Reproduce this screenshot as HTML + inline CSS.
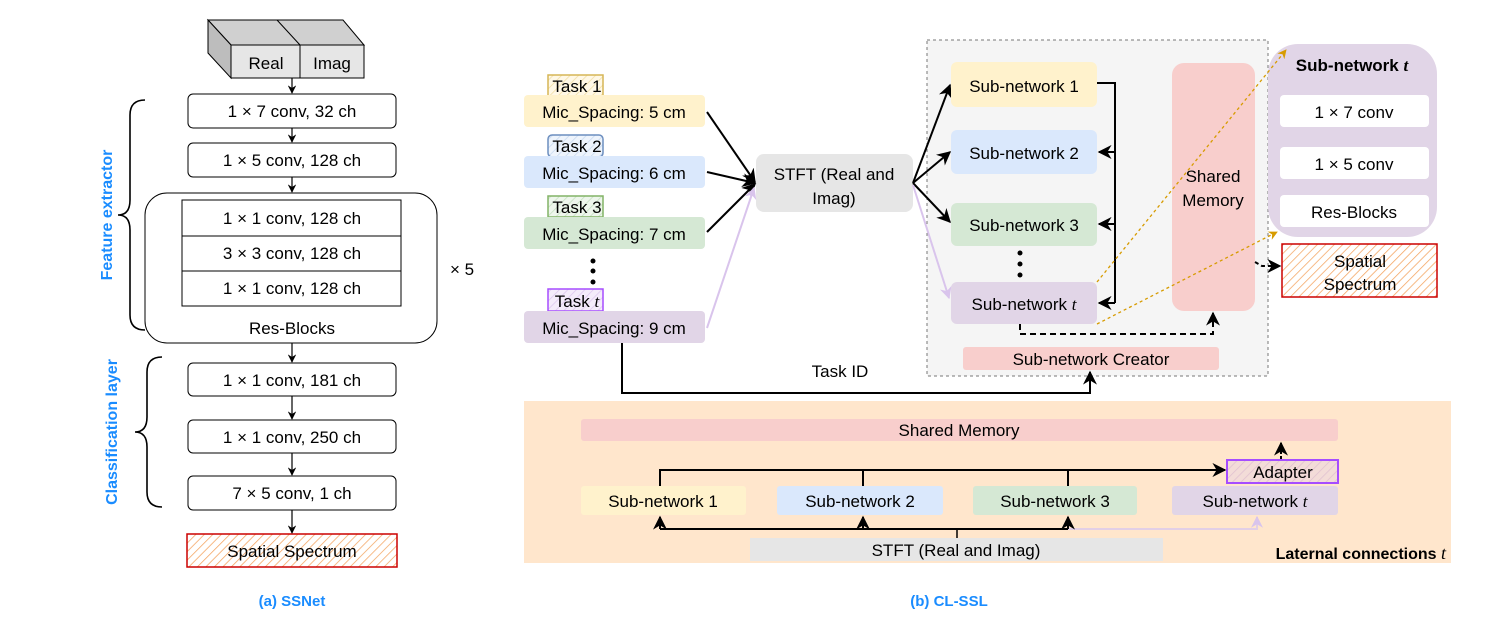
<!DOCTYPE html>
<html><head><meta charset="utf-8"><style>
body{margin:0;background:#fff}
svg{display:block;font-family:"Liberation Sans",sans-serif}
</style></head><body>
<svg width="1494" height="637" viewBox="0 0 1494 637" xmlns="http://www.w3.org/2000/svg">
<defs>
<marker id="ah" viewBox="0 0 10 10" refX="9" refY="5" markerWidth="7" markerHeight="7" orient="auto-start-reverse"><path d="M0,0L10,5L0,10L3,5z" fill="#000"/></marker>
<marker id="ahs" viewBox="0 0 10 10" refX="9" refY="5" markerWidth="7" markerHeight="7" orient="auto"><path d="M0,0L10,5L0,10L3,5z" fill="#000"/></marker>
<marker id="ahp" viewBox="0 0 10 10" refX="9" refY="5" markerWidth="6" markerHeight="6" orient="auto"><path d="M0,0L10,5L0,10L3,5z" fill="#d9c4ec"/></marker>
<marker id="aho" viewBox="0 0 10 10" refX="9" refY="5" markerWidth="7" markerHeight="7" orient="auto"><path d="M0,0L10,5L0,10L3,5z" fill="#d79b00"/></marker>
<pattern id="hr" width="6" height="6" patternUnits="userSpaceOnUse" patternTransform="rotate(45)"><rect width="6" height="6" fill="#fff"/><line x1="0" y1="0" x2="0" y2="6" stroke="#f4a460" stroke-width="1.5"/></pattern>
<pattern id="hy" width="6" height="6" patternUnits="userSpaceOnUse" patternTransform="rotate(45)"><rect width="6" height="6" fill="#fff8e6"/><line x1="0" y1="0" x2="0" y2="6" stroke="#f0dca0" stroke-width="1.5"/></pattern>
<pattern id="hb" width="6" height="6" patternUnits="userSpaceOnUse" patternTransform="rotate(45)"><rect width="6" height="6" fill="#eef4fc"/><line x1="0" y1="0" x2="0" y2="6" stroke="#c6d8ef" stroke-width="1.5"/></pattern>
<pattern id="hg" width="6" height="6" patternUnits="userSpaceOnUse" patternTransform="rotate(45)"><rect width="6" height="6" fill="#eef6ec"/><line x1="0" y1="0" x2="0" y2="6" stroke="#c5e0c0" stroke-width="1.5"/></pattern>
<pattern id="hp" width="6" height="6" patternUnits="userSpaceOnUse" patternTransform="rotate(45)"><rect width="6" height="6" fill="#f4ecfa"/><line x1="0" y1="0" x2="0" y2="6" stroke="#dcc6ee" stroke-width="1.5"/></pattern>
<pattern id="ha" width="6" height="6" patternUnits="userSpaceOnUse" patternTransform="rotate(45)"><rect width="6" height="6" fill="#f3dcd8"/><line x1="0" y1="0" x2="0" y2="6" stroke="#e0c0d0" stroke-width="1.5"/></pattern>
</defs>

<!-- ===== Left: SSNet ===== -->
<g stroke="#000" stroke-width="1">
<polygon points="208,20 343,20 364,45 231,45" fill="#d0d0d0"/>
<line x1="277" y1="20" x2="300" y2="45"/>
<polygon points="208,20 231,45 231,78 208,53" fill="#bdbdbd"/>
<rect x="231" y="45" width="69" height="33" fill="#e6e6e6"/>
<rect x="300" y="45" width="64" height="33" fill="#e6e6e6"/>
</g>
<g font-size="17" text-anchor="middle">
<text x="266" y="69">Real</text><text x="332" y="69">Imag</text>
</g>
<g fill="#fff" stroke="#000" stroke-width="1">
<rect x="188" y="94" width="208" height="34" rx="5"/>
<rect x="188" y="143" width="208" height="34" rx="5"/>
<rect x="145" y="193" width="292" height="150" rx="22"/>
<rect x="182" y="200" width="219" height="36"/>
<rect x="182" y="236" width="219" height="35"/>
<rect x="182" y="271" width="219" height="35"/>
<rect x="188" y="363" width="208" height="33" rx="5"/>
<rect x="188" y="420" width="208" height="33" rx="5"/>
<rect x="188" y="476" width="208" height="34" rx="5"/>
</g>
<rect x="187" y="534" width="210" height="33" fill="url(#hr)" stroke="#c00" stroke-width="1.5"/>
<g font-size="17" text-anchor="middle">
<text x="292" y="117">1 × 7 conv, 32 ch</text>
<text x="292" y="166">1 × 5 conv, 128 ch</text>
<text x="292" y="224">1 × 1 conv, 128 ch</text>
<text x="292" y="259">3 × 3 conv, 128 ch</text>
<text x="292" y="294">1 × 1 conv, 128 ch</text>
<text x="292" y="334">Res-Blocks</text>
<text x="292" y="386">1 × 1 conv, 181 ch</text>
<text x="292" y="443">1 × 1 conv, 250 ch</text>
<text x="292" y="499">7 × 5 conv, 1 ch</text>
<text x="292" y="557">Spatial Spectrum</text>
<text x="462" y="275">× 5</text>
</g>
<g stroke="#000" stroke-width="1.2" marker-end="url(#ahs)">
<line x1="292" y1="78" x2="292" y2="93"/>
<line x1="292" y1="128" x2="292" y2="142"/>
<line x1="292" y1="177" x2="292" y2="192"/>
<line x1="292" y1="343" x2="292" y2="362"/>
<line x1="292" y1="396" x2="292" y2="419"/>
<line x1="292" y1="453" x2="292" y2="475"/>
<line x1="292" y1="510" x2="292" y2="533"/>
</g>
<g fill="none" stroke="#000" stroke-width="1.6">
<path d="M145,100 Q130,100 130,115 L130,200 Q130,215 118,215 Q130,215 130,230 L130,315 Q130,330 145,330"/>
<path d="M162,357 Q147,357 147,372 L147,417 Q147,432 135,432 Q147,432 147,447 L147,492 Q147,507 162,507"/>
</g>
<g fill="#1a8cff" font-weight="bold" font-size="16" text-anchor="middle">
<text transform="translate(112,215) rotate(-90)">Feature extractor</text>
<text transform="translate(117,432) rotate(-90)">Classification layer</text>
<text x="292" y="606" font-size="15">(a) SSNet</text>
<text x="949" y="606" font-size="15">(b) CL-SSL</text>
</g>

<!-- ===== Right top ===== -->
<rect x="927" y="40" width="341" height="336" fill="#f5f5f5" stroke="#777" stroke-dasharray="3,3"/>
<rect x="548" y="75" width="55" height="22" fill="url(#hy)" stroke="#d6b656" stroke-width="1.5"/>
<rect x="548" y="135" width="55" height="22" rx="4" fill="url(#hb)" stroke="#6c8ebf" stroke-width="1.5"/>
<rect x="548" y="196" width="55" height="21" fill="url(#hg)" stroke="#82b366" stroke-width="1.5"/>
<rect x="548" y="289" width="55" height="22" fill="url(#hp)" stroke="#a64dff" stroke-width="1.5"/>
<rect x="524" y="95" width="181" height="32" rx="4" fill="#fff2cc"/>
<rect x="524" y="156" width="181" height="32" rx="4" fill="#dae8fc"/>
<rect x="524" y="217" width="181" height="32" rx="4" fill="#d5e8d4"/>
<rect x="524" y="311" width="181" height="32" rx="4" fill="#e1d5e7"/>
<g font-size="17" text-anchor="middle">
<text x="577" y="92">Task 1</text><text x="577" y="152">Task 2</text><text x="577" y="213">Task 3</text><text x="577" y="307">Task <tspan font-style="italic" font-family="Liberation Serif">t</tspan></text>
<text x="614" y="118">Mic_Spacing: 5 cm</text>
<text x="614" y="179">Mic_Spacing: 6 cm</text>
<text x="614" y="240">Mic_Spacing: 7 cm</text>
<text x="614" y="334">Mic_Spacing: 9 cm</text>
</g>
<g fill="#000"><circle cx="593" cy="261" r="2.5"/><circle cx="593" cy="271" r="2.5"/><circle cx="593" cy="282" r="2.5"/>
<circle cx="1020" cy="253" r="2.5"/><circle cx="1020" cy="264" r="2.5"/><circle cx="1020" cy="275" r="2.5"/></g>
<rect x="756" y="154" width="157" height="58" rx="8" fill="#e6e6e6"/>
<text x="834" y="180" font-size="17" text-anchor="middle">STFT (Real and</text>
<text x="834" y="204" font-size="17" text-anchor="middle">Imag)</text>
<g stroke="#000" stroke-width="2" marker-end="url(#ah)" fill="none">
<line x1="707" y1="112" x2="755" y2="182"/>
<line x1="707" y1="172" x2="755" y2="183"/>
<line x1="707" y1="232" x2="755" y2="184"/>
<line x1="913" y1="183" x2="950" y2="85"/>
<line x1="913" y1="183" x2="950" y2="152"/>
<line x1="913" y1="183" x2="950" y2="222"/>
</g>
<g stroke="#d9c4ec" stroke-width="2" marker-end="url(#ahp)" fill="none">
<line x1="707" y1="328" x2="754" y2="188"/>
<line x1="913" y1="185" x2="949" y2="298"/>
</g>
<rect x="951" y="62" width="146" height="45" rx="6" fill="#fff2cc"/>
<rect x="951" y="130" width="146" height="44" rx="6" fill="#dae8fc"/>
<rect x="951" y="203" width="146" height="43" rx="6" fill="#d5e8d4"/>
<rect x="951" y="282" width="146" height="42" rx="6" fill="#e1d5e7"/>
<g font-size="17" text-anchor="middle">
<text x="1024" y="92">Sub-network 1</text>
<text x="1024" y="159">Sub-network 2</text>
<text x="1024" y="231">Sub-network 3</text>
<text x="1024" y="310">Sub-network <tspan font-style="italic" font-family="Liberation Serif">t</tspan></text>
</g>
<path d="M1097,83 L1115,83 L1115,303" stroke="#000" stroke-width="2" fill="none"/>
<g stroke="#000" stroke-width="2" marker-end="url(#ah)">
<line x1="1115" y1="152" x2="1099" y2="152"/>
<line x1="1115" y1="224" x2="1099" y2="224"/>
<line x1="1115" y1="303" x2="1099" y2="303"/>
</g>
<rect x="1172" y="63" width="83" height="248" rx="12" fill="#f8cecc"/>
<text x="1213" y="182" font-size="17" text-anchor="middle">Shared</text>
<text x="1213" y="206" font-size="17" text-anchor="middle">Memory</text>
<path d="M1020,324 L1020,334 L1213,334 L1213,313" stroke="#000" stroke-width="2" stroke-dasharray="6,4" fill="none" marker-end="url(#ah)"/>
<rect x="963" y="347" width="256" height="23" rx="3" fill="#f8cecc"/>
<text x="1091" y="365" font-size="17" text-anchor="middle">Sub-network Creator</text>
<rect x="1268" y="44" width="169" height="193" rx="30" fill="#e1d5e7"/>
<text x="1352" y="71" font-size="17" font-weight="bold" text-anchor="middle">Sub-network <tspan font-style="italic" font-family="Liberation Serif">t</tspan></text>
<rect x="1280" y="95" width="149" height="32" rx="4" fill="#fff"/>
<rect x="1280" y="147" width="149" height="32" rx="4" fill="#fff"/>
<rect x="1280" y="195" width="149" height="32" rx="4" fill="#fff"/>
<g font-size="17" text-anchor="middle">
<text x="1354" y="118">1 × 7 conv</text>
<text x="1354" y="170">1 × 5 conv</text>
<text x="1354" y="218">Res-Blocks</text>
</g>
<rect x="1282" y="244" width="155" height="53" fill="url(#hr)" stroke="#c00" stroke-width="1.5"/>
<text x="1360" y="267" font-size="17" text-anchor="middle">Spatial</text>
<text x="1360" y="290" font-size="17" text-anchor="middle">Spectrum</text>
<path d="M1255,262 L1262,266 L1280,266" stroke="#000" stroke-width="2" stroke-dasharray="4,3" fill="none" marker-end="url(#ah)"/>
<g stroke="#d79b00" stroke-width="1.3" stroke-dasharray="3,3" fill="none" marker-end="url(#aho)">
<line x1="1097" y1="282" x2="1286" y2="50"/>
<line x1="1097" y1="324" x2="1277" y2="232"/>
</g>
<path d="M622,343 L622,393 L1090,393 L1090,372" stroke="#000" stroke-width="2" fill="none" marker-end="url(#ah)"/>
<text x="840" y="377" font-size="17" text-anchor="middle">Task ID</text>

<!-- ===== Bottom panel ===== -->
<rect x="524" y="401" width="927" height="162" fill="#ffe6cc"/>
<rect x="581" y="419" width="757" height="22" rx="3" fill="#f8cecc"/>
<text x="959" y="436" font-size="17" text-anchor="middle">Shared Memory</text>
<rect x="1227" y="460" width="111" height="23" fill="url(#ha)" stroke="#a64dff" stroke-width="2"/>
<text x="1283" y="478" font-size="17" text-anchor="middle">Adapter</text>
<path d="M1281,459 L1281,443" stroke="#000" stroke-width="2" stroke-dasharray="3,2" marker-end="url(#ah)"/>
<path d="M660,487 L660,470 L1225,470" stroke="#000" stroke-width="2" fill="none" marker-end="url(#ah)"/>
<line x1="863" y1="470" x2="863" y2="487" stroke="#000" stroke-width="2"/>
<line x1="1068" y1="470" x2="1068" y2="487" stroke="#000" stroke-width="2"/>
<rect x="581" y="486" width="165" height="29" rx="3" fill="#fff2cc"/>
<rect x="777" y="486" width="166" height="29" rx="3" fill="#dae8fc"/>
<rect x="973" y="486" width="164" height="29" rx="3" fill="#d5e8d4"/>
<rect x="1172" y="486" width="166" height="29" rx="3" fill="#e1d5e7"/>
<g font-size="17" text-anchor="middle">
<text x="663" y="507">Sub-network 1</text>
<text x="860" y="507">Sub-network 2</text>
<text x="1055" y="507">Sub-network 3</text>
<text x="1255" y="507">Sub-network <tspan font-style="italic" font-family="Liberation Serif">t</tspan></text>
</g>
<path d="M1068,529 L1257,529 L1257,517" stroke="#e2cfe6" stroke-width="2" fill="none" marker-end="url(#ahp)"/>
<line x1="660" y1="529" x2="1068" y2="529" stroke="#000" stroke-width="2"/>
<g stroke="#000" stroke-width="2" marker-end="url(#ah)">
<line x1="660" y1="529" x2="660" y2="517"/>
<line x1="863" y1="529" x2="863" y2="517"/>
<line x1="1068" y1="529" x2="1068" y2="517"/>
</g>
<line x1="957" y1="529" x2="957" y2="538" stroke="#000" stroke-width="1.5"/>
<rect x="750" y="538" width="413" height="23" fill="#e6e6e6"/>
<text x="956" y="556" font-size="17" text-anchor="middle">STFT (Real and Imag)</text>
<text x="1446" y="559" font-size="16" font-weight="bold" text-anchor="end">Laternal connections <tspan font-style="italic" font-weight="normal" font-family="Liberation Serif" font-size="18">t</tspan></text>
</svg>
</body></html>
